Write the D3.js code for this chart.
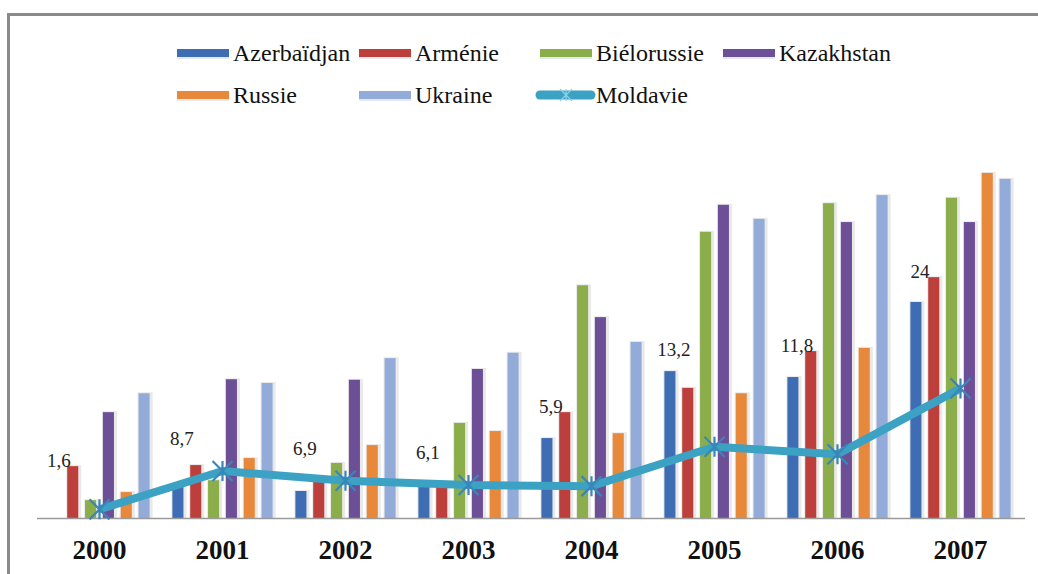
<!DOCTYPE html>
<html>
<head>
<meta charset="utf-8">
<script src="https://d3js.org/d3.v7.min.js"></script>
<style>
  body { margin: 0; background: #fff; }
</style>
</head>
<body>
<svg id="chart" width="1038" height="574"></svg>
<script>
// data (values in the chart's own units)
const years = ["2000", "2001", "2002", "2003", "2004", "2005", "2006", "2007"];
const seriesNames = ["Azerbaïdjan", "Arménie", "Biélorussie", "Kazakhstan", "Russie", "Ukraine"];
const azerbaidjan = [null, 6.1, 5.0, 6.0, 14.8, 27.2, 26.1, 40.0];
const armenie     = [9.6, 9.8, 6.7, 6.0, 19.6, 24.1, 30.9, 44.6];
const bielorussie = [3.3, 7.0, 10.2, 17.6, 43.1, 53.0, 58.3, 59.3];
const kazakhstan  = [19.6, 25.7, 25.6, 27.6, 37.2, 58.0, 54.8, 54.8];
const russie      = [4.8, 11.1, 13.5, 16.1, 15.7, 23.1, 31.5, 63.9];
const ukraine     = [23.1, 25.0, 29.6, 30.6, 32.6, 55.4, 59.8, 62.8];
const moldavie    = [1.6, 8.7, 6.9, 6.1, 5.9, 13.2, 11.8, 24];

const colors = ["#3f6db3", "#bd3f3b", "#8bae4b", "#6d4f98", "#e8883b", "#93abd8"];
const lineColor = "#3ba2c3";
const markColor = "#3a86b8";
const serif = "'Liberation Serif', 'Times New Roman', serif";

const barData = [azerbaidjan, armenie, bielorussie, kazakhstan, russie, ukraine];
const rows = [];
years.forEach((yr, i) => {
  seriesNames.forEach((s, j) => {
    if (barData[j][i] != null) rows.push({year: yr, series: s, value: barData[j][i], c: colors[j]});
  });
});

const svg = d3.select("#chart");

// frame
svg.append("rect")
  .attr("x", 8.5).attr("y", 14.5)
  .attr("width", 1100).attr("height", 700)
  .attr("fill", "none").attr("stroke", "#8a8a8a").attr("stroke-width", 3);

const x0 = d3.scaleBand().domain(years).range([38, 1022]).paddingInner(0.13).paddingOuter(0.065);
const x1 = d3.scaleBand().domain(seriesNames).range([0, x0.bandwidth()]).paddingInner(0.38).paddingOuter(0.19);
const y = d3.scaleLinear().domain([0, 65]).range([518, 167]);

// bars (with a faint glow like the original)
const bars = svg.append("g");
bars.selectAll("rect.glow").data(rows).enter().append("rect")
  .attr("class", "glow")
  .attr("x", d => x0(d.year) + x1(d.series) - 1)
  .attr("y", d => y(d.value) - 1)
  .attr("width", x1.bandwidth() + 4)
  .attr("height", d => y(0) - y(d.value) + 1)
  .attr("fill", "#e9e9e9");
bars.selectAll("rect.bar").data(rows).enter().append("rect")
  .attr("class", "bar")
  .attr("x", d => x0(d.year) + x1(d.series))
  .attr("y", d => y(d.value))
  .attr("width", x1.bandwidth())
  .attr("height", d => y(0) - y(d.value))
  .attr("fill", d => d.c);

// category axis
svg.append("line")
  .attr("x1", 37).attr("x2", 1025)
  .attr("y1", y(0) + 0.5).attr("y2", y(0) + 0.5)
  .attr("stroke", "#9a9a9a").attr("stroke-width", 1.5);

svg.append("g").selectAll("text").data(years).enter().append("text")
  .attr("x", d => x0(d) + x0.bandwidth() / 2)
  .attr("y", 559)
  .attr("text-anchor", "middle")
  .attr("font-family", serif)
  .attr("font-size", 27)
  .attr("font-weight", "bold")
  .attr("fill", "#111")
  .text(d => d);

// Moldavie line
const cx = d => x0(d) + x0.bandwidth() / 2;
const pts = years.map((yr, i) => [cx(yr), y(moldavie[i])]);
svg.append("path")
  .attr("d", d3.line()(pts))
  .attr("fill", "none")
  .attr("stroke", lineColor)
  .attr("stroke-width", 8)
  .attr("stroke-linejoin", "round");

function starPath(r) {
  return `M${-r},${-r}L${r},${r}M${-r},${r}L${r},${-r}M0,${-r}L0,${r}`;
}
svg.append("g").selectAll("path").data(pts).enter().append("path")
  .attr("transform", d => `translate(${d[0]},${d[1]})`)
  .attr("d", starPath(10))
  .attr("stroke", markColor)
  .attr("stroke-width", 2.2)
  .attr("fill", "none");

// Moldavie value labels
svg.append("g").selectAll("text").data(years).enter().append("text")
  .attr("x", d => x0(d) + x1(seriesNames[0]) + x1.bandwidth() / 2 + 4)
  .attr("y", (d, i) => {
    const a = azerbaidjan[i] == null ? y(0) : y(azerbaidjan[i]);
    return Math.min(a - 15, y(armenie[i]) + 1, y(moldavie[i]) - 26);
  })
  .attr("text-anchor", "middle")
  .attr("font-family", serif)
  .attr("font-size", 19)
  .attr("fill", "#222")
  .text((d, i) => String(moldavie[i]).replace(".", ","));

// legend
const legendItems = [
  {name: "Azerbaïdjan", c: colors[0], col: 0, row: 0},
  {name: "Arménie", c: colors[1], col: 1, row: 0},
  {name: "Biélorussie", c: colors[2], col: 2, row: 0},
  {name: "Kazakhstan", c: colors[3], col: 3, row: 0},
  {name: "Russie", c: colors[4], col: 0, row: 1},
  {name: "Ukraine", c: colors[5], col: 1, row: 1},
  {name: "Moldavie", c: lineColor, col: 2, row: 1, line: true}
];
const colX = [177, 359, 540, 723];
const rowY = [53, 95];
const lg = svg.append("g").selectAll("g").data(legendItems).enter().append("g")
  .attr("transform", d => `translate(${colX[d.col]},${rowY[d.row]})`);
lg.filter(d => !d.line).append("rect")
  .attr("x", 0).attr("y", -4).attr("width", 52).attr("height", 8)
  .attr("fill", d => d.c);
lg.filter(d => !d.line).append("rect")
  .attr("x", 0).attr("y", 4).attr("width", 52).attr("height", 2)
  .attr("fill", "#e4e8ef");
lg.filter(d => d.line).append("line")
  .attr("x1", 0).attr("x2", 51).attr("y1", 0).attr("y2", 0)
  .attr("stroke", d => d.c).attr("stroke-width", 9).attr("stroke-linecap", "round");
lg.filter(d => d.line).append("path")
  .attr("transform", "translate(26,0)")
  .attr("d", starPath(6))
  .attr("stroke", "#8fd0e6").attr("stroke-width", 1.2).attr("fill", "none");
lg.append("text")
  .attr("x", 56).attr("y", 8)
  .attr("font-family", serif)
  .attr("font-size", 24)
  .attr("fill", "#111")
  .text(d => d.name);
</script>
</body>
</html>
